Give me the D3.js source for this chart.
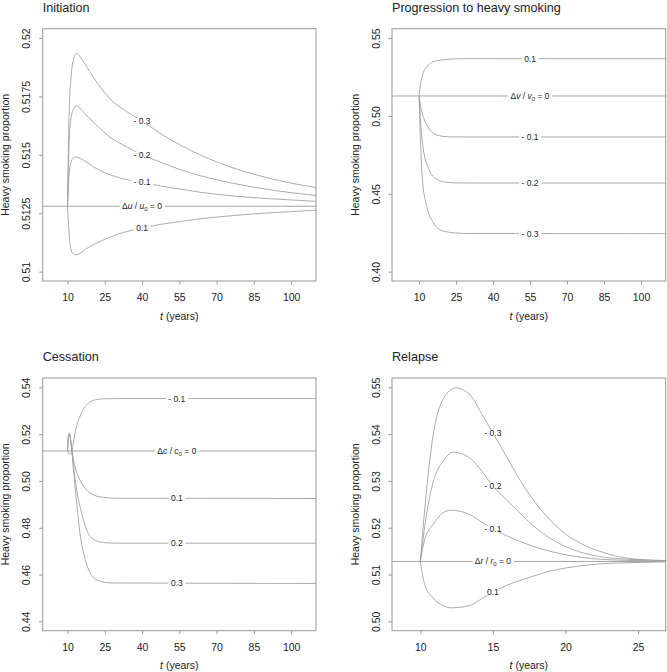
<!DOCTYPE html>
<html>
<head>
<meta charset="utf-8">
<script src="https://cdn.jsdelivr.net/npm/d3@7"></script>
<style>
  body { margin: 0; background: #fff; }
  text { font-family: "Liberation Sans", Arial, Helvetica, sans-serif; fill: #222; }
</style>
</head>
<body>
<svg id="chart" width="667" height="672"></svg>
<script>
// equilibrium heavy smoking proportion (the "= 0" line in every panel)
const baseline = 0.5128;

// ---- Initiation (t, proportion), per relative change in u
const initM03 = [[10,.51282],[10.3,.5150],[10.7,.5170],[11.3,.5182],[12.2,.5190],[13.5,.51934],[15,.5192],[17.5,.5188],[20.4,.51832],[27.1,.5174],[33.8,.51685],[40,.51645],[47.2,.51593],[55,.51544],[63.3,.515],[76.7,.51444],[90,.51403],[100,.51379],[110,.5136]];
const initM02 = [[10,.51282],[10.3,.5143],[10.7,.5157],[11.3,.5165],[12.2,.5169],[13.5,.51711],[15,.5170],[17.5,.5167],[20.4,.5164],[27.1,.51576],[33.8,.51534],[40,.5150],[47.2,.5147],[55,.51438],[63.3,.51411],[76.7,.51378],[90,.51353],[100,.51338],[110,.51326]];
const initM01 = [[10,.51282],[10.3,.5136],[10.7,.5142],[11.3,.51465],[12.2,.51485],[13.4,.51491],[15,.51485],[17.5,.5147],[20.4,.51449],[27.1,.51415],[33.8,.51394],[40,.51382],[47.2,.51367],[55,.51354],[63.3,.5134],[76.7,.51324],[90,.51313],[100,.51307],[110,.51301]];
const initP01 = [[10,.51282],[10.3,.5122],[10.7,.5115],[11.3,.5110],[12.2,.51077],[13.4,.51072],[15,.51078],[17.5,.51098],[20.4,.51115],[27.1,.51148],[33.8,.51172],[40,.51186],[47.2,.51202],[55,.51214],[63.3,.51226],[76.7,.5124],[90,.51251],[100,.51257],[110,.51263]];

// ---- Progression to heavy smoking, per relative change in v
const progP01 = [[10,.5128],[10.5,.5200],[11.1,.5245],[12,.5290],[13.1,.5315],[14.5,.5337],[16.5,.5351],[20.5,.5362],[27.3,.5367],[40,.5368],[110,.5368]];
const progM01 = [[10,.5128],[10.5,.5075],[11.1,.5026],[12,.4980],[13.1,.4941],[15.1,.4898],[17.8,.4874],[21.9,.4866],[30,.4865],[110,.4865]];
const progM02 = [[10,.5128],[10.67,.4951],[11.75,.4781],[13.8,.4664],[16.5,.4600],[20.5,.4575],[25,.4570],[35,.4569],[110,.4569]];
const progM03 = [[10,.5128],[10.54,.4845],[11.35,.4589],[13.1,.4419],[15.8,.4313],[19.2,.4264],[24.6,.4249],[30,.4245],[110,.4244]];

// ---- Cessation, per relative change in c
const cessM01 = [[10,.5128],[10.4,.5119],[10.9,.5114],[11.3,.5117],[11.7,.5128],[12.3,.5160],[13,.5204],[15,.5275],[17.7,.5326],[20.4,.5344],[24.4,.5351],[30,.5352],[110,.5352]];
const cessP01 = [[10,.5128],[10.2,.5168],[10.5,.5193],[10.8,.5197],[11.1,.5186],[11.5,.5156],[11.9,.5122],[12.3,.5095],[13,.5061],[15,.5004],[17.7,.4961],[20.4,.4940],[24.4,.4930],[30,.4926],[110,.4925]];
const cessP02 = [[10,.5128],[10.2,.5170],[10.5,.5197],[10.8,.5201],[11.1,.5188],[11.5,.5154],[11.9,.5115],[12.3,.5075],[13.7,.4961],[15.7,.4862],[17.7,.4790],[20.4,.4750],[24.4,.4737],[30,.4734],[110,.4734]];
const cessP03 = [[10,.5128],[10.2,.5172],[10.5,.5200],[10.8,.5204],[11.1,.5190],[11.5,.5152],[11.9,.5110],[12.3,.5060],[13.7,.4904],[15,.4776],[17,.4669],[19.7,.4597],[23,.4572],[28,.4564],[110,.4562]];

// ---- Relapse, per relative change in r
const relM03 = [[10,.5128],[10.41,.52745],[10.87,.53956],[11.56,.5474],[12.43,.54989],[13.4,.54846],[14.32,.54383],[15,.54027],[15.92,.53528],[16.84,.5303],[17.76,.52603],[18.91,.52175],[20.05,.51855],[21.2,.51641],[22.35,.51499],[23.5,.51392],[24.65,.51335],[26.9,.51299]];
const relM02 = [[10,.5128],[10.41,.52246],[10.87,.52959],[11.56,.53422],[12.3,.53614],[13.4,.53493],[14.32,.53175],[15,.52887],[15.92,.52603],[16.84,.52318],[17.76,.52047],[18.91,.51783],[20.05,.51591],[21.2,.51463],[22.35,.51385],[23.5,.51342],[24.65,.51321],[26.9,.51292]];
const relM01 = [[10,.5128],[10.3,.51748],[10.87,.52068],[11.56,.52318],[12.13,.52375],[13.4,.52282],[14.32,.52104],[15,.51976],[15.92,.51833],[16.84,.51712],[17.76,.51605],[18.91,.51499],[20.05,.5142],[21.2,.51363],[22.35,.51328],[24.65,.51299],[26.9,.51285]];
const relP01 = [[10,.5128],[10.3,.50786],[10.87,.50501],[11.56,.50338],[12.13,.50288],[13.4,.50338],[14.32,.50501],[15.12,.50644],[15.92,.50765],[16.84,.50872],[17.76,.50964],[18.91,.51071],[20.05,.51142],[21.2,.51192],[22.35,.51228],[24.65,.51256],[26.9,.51271]];

// tick labels
const longTicksX = [10, 25, 40, 55, 70, 85, 100];
const relTicksX = [10, 15, 20, 25];
const initTicksY = ["0.51", "0.5125", "0.515", "0.5175", "0.52"];
const progTicksY = ["0.40", "0.45", "0.50", "0.55"];
const cessTicksY = ["0.44", "0.46", "0.48", "0.50", "0.52", "0.54"];
const relTicksY = ["0.50", "0.51", "0.52", "0.53", "0.54", "0.55"];

const panels = [
  { title: "Initiation", sym: "u", left: 42.7, right: 316, top: 28.7, bottom: 281,
    xDomain: [0, 110], yDomain: [0.5096, 0.5204], xTicks: longTicksX, yTicks: initTicksY, labelT: 40,
    curves: [["- 0.3", initM03], ["- 0.2", initM02], ["- 0.1", initM01], ["0.1", initP01]] },
  { title: "Progression to heavy smoking", sym: "v", left: 392, right: 665.7, top: 28.7, bottom: 281,
    xDomain: [-1, 110], yDomain: [0.394, 0.556], xTicks: longTicksX, yTicks: progTicksY, labelT: 55,
    curves: [["0.1", progP01], ["- 0.1", progM01], ["- 0.2", progM02], ["- 0.3", progM03]] },
  { title: "Cessation", sym: "c", left: 42.7, right: 316, top: 378, bottom: 630.7,
    xDomain: [0, 110], yDomain: [0.436, 0.544], xTicks: longTicksX, yTicks: cessTicksY, labelT: 54,
    curves: [["- 0.1", cessM01], ["0.1", cessP01], ["0.2", cessP02], ["0.3", cessP03]] },
  { title: "Relapse", sym: "r", left: 392, right: 665.7, top: 378, bottom: 630.7,
    xDomain: [8.05, 26.9], yDomain: [0.498, 0.552], xTicks: relTicksX, yTicks: relTicksY, labelT: 15,
    curves: [["- 0.3", relM03], ["- 0.2", relM02], ["- 0.1", relM01], ["0.1", relP01]] }
];

const svg = d3.select("#chart");
const lineCol = "#a2a2a2";
const boxCol = "#999";

// linear read of a curve at time t (for placing the contour-style labels)
function valueAt(data, t) {
  const i = d3.bisector(d => d[0]).left(data, t);
  if (i <= 0) return data[0][1];
  if (i >= data.length) return data[data.length - 1][1];
  const a = data[i - 1], b = data[i];
  return a[1] + (b[1] - a[1]) * (t - a[0]) / (b[0] - a[0]);
}

function addLabel(g, cx, cy, build) {
  const lab = g.append("g");
  const bg = lab.append("rect").attr("fill", "#fff");
  const txt = lab.append("text")
    .attr("x", cx).attr("y", cy).attr("dy", "0.35em")
    .attr("text-anchor", "middle").attr("font-size", 8.5);
  build(txt);
  const bb = txt.node().getBBox();
  bg.attr("x", bb.x - 2.5).attr("y", cy - 3).attr("width", bb.width + 5).attr("height", 6);
}

panels.forEach(p => {
  const g = svg.append("g");
  const x = d3.scaleLinear().domain(p.xDomain).range([p.left, p.right]);
  const y = d3.scaleLinear().domain(p.yDomain).range([p.bottom, p.top]);
  const line = d3.line().x(d => x(d[0])).y(d => y(d[1])).curve(d3.curveMonotoneX);

  g.append("text").attr("x", p.left).attr("y", p.top - 17)
    .attr("font-size", 12.6).text(p.title);

  // reference line across the whole plot
  g.append("line")
    .attr("x1", x(p.xDomain[0])).attr("x2", x(p.xDomain[1]))
    .attr("y1", y(baseline)).attr("y2", y(baseline))
    .attr("stroke", lineCol).attr("stroke-width", 1);

  p.curves.forEach(([, data]) => {
    g.append("path").attr("d", line(data))
      .attr("fill", "none").attr("stroke", lineCol).attr("stroke-width", 0.9);
  });

  // labels on the lines
  const lx = x(p.labelT);
  p.curves.forEach(([name, data]) => {
    addLabel(g, lx, y(valueAt(data, p.labelT)), t => t.text(name));
  });
  addLabel(g, lx, y(baseline), t => {
    t.append("tspan").text("\u0394");
    t.append("tspan").attr("font-style", "italic").text(p.sym);
    t.append("tspan").text(" / ");
    t.append("tspan").attr("font-style", "italic").text(p.sym);
    t.append("tspan").attr("font-size", 6).attr("dy", 2).text("0");
    t.append("tspan").attr("dy", -2).text(" = 0");
  });

  // box
  g.append("rect")
    .attr("x", p.left).attr("y", p.top)
    .attr("width", p.right - p.left).attr("height", p.bottom - p.top)
    .attr("fill", "none").attr("stroke", boxCol).attr("stroke-width", 1);

  // x axis
  const xAxis = d3.axisBottom(x).tickValues(p.xTicks).tickSize(3.5).tickPadding(9)
    .tickFormat(d3.format("d"));
  const gx = g.append("g").attr("transform", `translate(0,${p.bottom})`).call(xAxis);
  gx.select(".domain").remove();
  gx.selectAll(".tick line").attr("stroke", boxCol);
  gx.selectAll(".tick text").attr("font-size", 10.5).attr("fill", "#222")
    .attr("font-family", "Liberation Sans, Arial, sans-serif");

  // y axis, labels turned like base R
  const yAxis = d3.axisLeft(y).tickValues(p.yTicks.map(Number)).tickSize(3.5)
    .tickFormat((d, i) => p.yTicks[i]);
  const gy = g.append("g").attr("transform", `translate(${p.left},0)`).call(yAxis);
  gy.select(".domain").remove();
  gy.selectAll(".tick line").attr("stroke", boxCol);
  gy.selectAll(".tick text")
    .attr("font-size", 10.5).attr("fill", "#222")
    .attr("font-family", "Liberation Sans, Arial, sans-serif")
    .attr("x", 0).attr("y", -12.3).attr("dy", 0)
    .attr("transform", "rotate(-90)").attr("text-anchor", "middle");

  // axis titles
  const xt = g.append("text")
    .attr("x", (p.left + p.right) / 2).attr("y", p.bottom + 38.5)
    .attr("text-anchor", "middle").attr("font-size", 10.5);
  xt.append("tspan").attr("font-style", "italic").text("t");
  xt.append("tspan").text("  (years)");

  g.append("text")
    .attr("transform", `translate(${p.left - 33.5},${(p.top + p.bottom) / 2}) rotate(-90)`)
    .attr("text-anchor", "middle").attr("font-size", 10.5)
    .text("Heavy smoking proportion");
});
</script>
</body>
</html>
